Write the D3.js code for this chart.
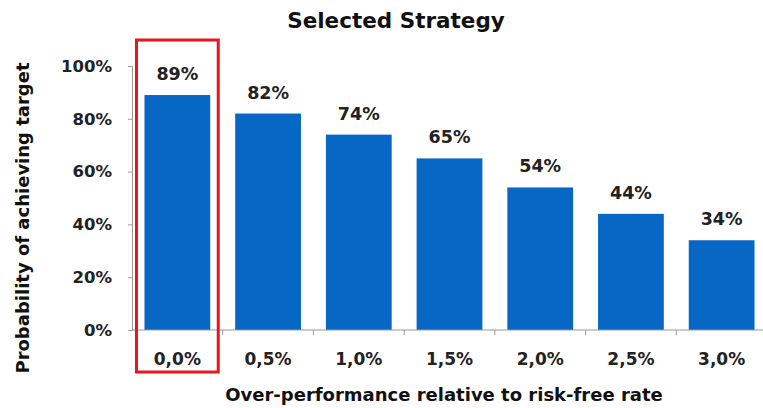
<!DOCTYPE html>
<html>
<head>
<meta charset="utf-8">
<script src="https://cdn.jsdelivr.net/npm/d3@7"></script>
<style>
  body { margin: 0; background: #fff; }
  svg { display: block; font-family: "DejaVu Sans", Verdana, sans-serif; }
</style>
</head>
<body>
<svg id="chart" width="763" height="408"></svg>
<script>
const categories = ["0,0%", "0,5%", "1,0%", "1,5%", "2,0%", "2,5%", "3,0%"];
const probabilities = [89, 82, 74, 65, 54, 44, 34];
const yTicks = [0, 20, 40, 60, 80, 100];
const highlighted = "0,0%";

const svg = d3.select("#chart");
const margin = { left: 132, right: -4, top: 66, bottom: 78 };
const width = 763, height = 408;
const font = "DejaVu Sans, Verdana, sans-serif";

const x = d3.scaleBand()
  .domain(categories)
  .range([margin.left, width - margin.right])
  .paddingInner(0.275)
  .paddingOuter(0.1375);

const y = d3.scaleLinear()
  .domain([0, 100])
  .range([height - margin.bottom, margin.top]);

// Bars
svg.append("g").selectAll("rect")
  .data(probabilities)
  .join("rect")
  .attr("x", (d, i) => x(categories[i]))
  .attr("y", d => y(d))
  .attr("width", x.bandwidth())
  .attr("height", d => y(0) - y(d))
  .attr("fill", "#0767c4");

// Value labels
svg.append("g").selectAll("text")
  .data(probabilities)
  .join("text")
  .attr("x", (d, i) => x(categories[i]) + x.bandwidth() / 2)
  .attr("y", d => y(d) - 15)
  .attr("text-anchor", "middle")
  .attr("font-size", 17.5)
  .attr("font-weight", "bold")
  .attr("fill", "#222")
  .text(d => d + "%");

// Y axis
const yAxis = svg.append("g")
  .attr("transform", `translate(${margin.left},0)`)
  .call(d3.axisLeft(y).tickValues(yTicks).tickFormat(d => d + "%").tickSize(4).tickPadding(16));
yAxis.select(".domain").attr("stroke", "#999");
yAxis.selectAll(".tick line").attr("stroke", "#999");
yAxis.selectAll(".tick text")
  .attr("font-size", 16.5).attr("font-weight", "bold").attr("fill", "#222")
  .attr("font-family", font);

// X axis: ticks sit on the band boundaries
const boundaries = categories.map(c => x(c) - x.step() * x.paddingInner() / 2);
const xAxisG = svg.append("g").attr("transform", `translate(0,${y(0)})`);
xAxisG.append("line")
  .attr("x1", margin.left).attr("x2", width)
  .attr("stroke", "#999");
xAxisG.selectAll(".xtick")
  .data(boundaries.slice(1))
  .join("line")
  .attr("x1", d => d).attr("x2", d => d)
  .attr("y1", 0).attr("y2", 5)
  .attr("stroke", "#999");
xAxisG.selectAll("text")
  .data(categories)
  .join("text")
  .attr("x", d => x(d) + x.bandwidth() / 2)
  .attr("y", 35)
  .attr("text-anchor", "middle")
  .attr("font-size", 17)
  .attr("font-weight", "bold")
  .attr("fill", "#222")
  .text(d => d);

// Highlight frame around the selected category
const hx = x(highlighted);
svg.append("rect")
  .attr("x", hx - 8)
  .attr("y", 40)
  .attr("width", x.bandwidth() + 16)
  .attr("height", 332)
  .attr("fill", "none")
  .attr("stroke", "#e8161c")
  .attr("stroke-width", 3);

// Title
svg.append("text")
  .attr("x", 396).attr("y", 28)
  .attr("text-anchor", "middle")
  .attr("font-size", 21.5).attr("font-weight", "bold").attr("fill", "#111")
  .text("Selected Strategy");

// Axis titles
svg.append("text")
  .attr("x", 444).attr("y", 401)
  .attr("text-anchor", "middle")
  .attr("font-size", 18).attr("font-weight", "bold").attr("fill", "#111")
  .text("Over-performance relative to risk-free rate");

svg.append("text")
  .attr("transform", "translate(29,218) rotate(-90)")
  .attr("text-anchor", "middle")
  .attr("font-size", 18).attr("font-weight", "bold").attr("fill", "#111")
  .text("Probability of achieving target");
</script>
</body>
</html>
